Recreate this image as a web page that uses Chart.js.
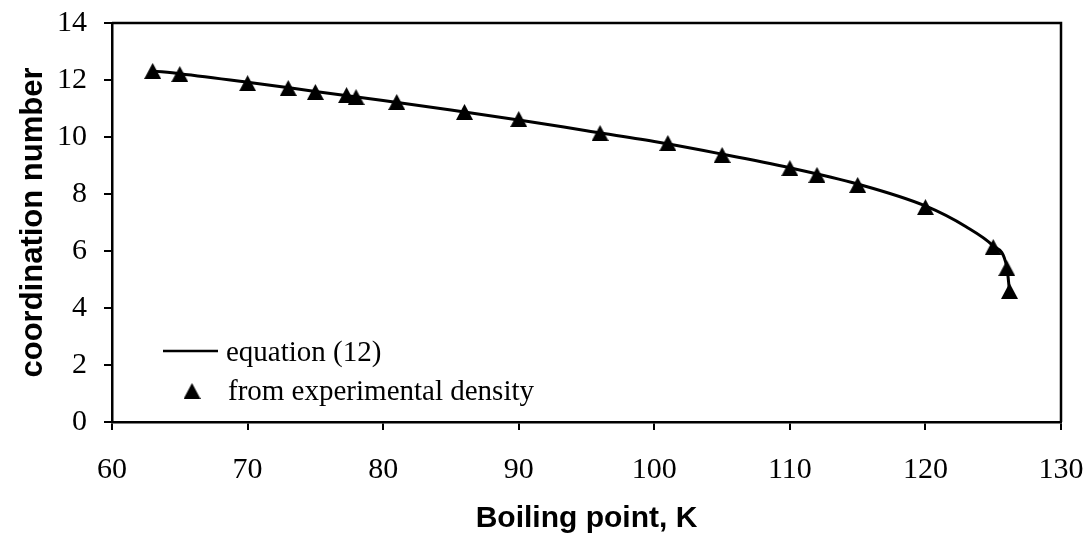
<!DOCTYPE html>
<html>
<head>
	<title>Coordination number vs boiling point</title>
	<script src="https://cdn.jsdelivr.net/npm/chart.js@4/dist/chart.umd.min.js"></script>
	<style>
		body { margin: 0; background: #fff; }
	</style>
</head>
<body>
	<div>
		<canvas id="chart" width="1087" height="540"></canvas>
	</div>

	<script type="text/javascript">

		// experimental points (triangles)
		var tempExp = [63, 65, 70, 73, 75, 77.3, 78, 81, 86, 90, 96, 101, 105, 110, 112, 115, 120, 125, 126, 126.2];
		var cnExp = [12.32, 12.21, 11.89, 11.72, 11.58, 11.47, 11.40, 11.23, 10.88, 10.63, 10.14, 9.79, 9.37, 8.91, 8.67, 8.32, 7.54, 6.14, 5.40, 4.60];

		// equation (12) curve
		var tempEq = [63, 65, 70, 75, 80, 85, 90, 95, 100, 105, 110, 115, 120, 123, 125, 126, 126.2];
		var cnEq = [12.32, 12.22, 11.92, 11.60, 11.28, 10.95, 10.60, 10.22, 9.84, 9.40, 8.92, 8.35, 7.58, 6.85, 6.18, 5.45, 4.60];

		var xTicks = [60, 70, 80, 90, 100, 110, 120, 130];
		var yTicks = [0, 2, 4, 6, 8, 10, 12, 14];

		function toXY(xs, ys) {
			var out = [];
			for (var i = 0; i < xs.length; i++) {
				out.push({x: xs[i], y: ys[i]});
			}
			return out;
		}

		// triangle marker centred on its bounding box
		function makeTriangle(w, h) {
			var c = document.createElement('canvas');
			c.width = w;
			c.height = h;
			var g = c.getContext('2d');
			g.fillStyle = '#000';
			g.beginPath();
			g.moveTo(w / 2, 0);
			g.lineTo(w, h);
			g.lineTo(0, h);
			g.closePath();
			g.fill();
			return c;
		}
		var tri = makeTriangle(17, 16);

		var serif = '"Liberation Serif", "Times New Roman", serif';
		var sans = '"Liberation Sans", Arial, sans-serif';

		// box around the plot + legend inside the plot
		var framePlugin = {
			id: 'frame',
			afterDraw: function(chart) {
				var ctx = chart.ctx;
				var a = chart.chartArea;
				ctx.save();
				ctx.strokeStyle = '#000';
				ctx.lineWidth = 2.5;
				ctx.beginPath();
				ctx.moveTo(a.left, a.top);
				ctx.lineTo(a.right, a.top);
				ctx.lineTo(a.right, a.bottom);
				ctx.stroke();

				var ds = chart.data.datasets;
				ctx.font = '29px ' + serif;
				ctx.fillStyle = '#000';
				ctx.textBaseline = 'middle';
				ctx.textAlign = 'left';

				// line entry
				ctx.lineWidth = 2.5;
				ctx.beginPath();
				ctx.moveTo(163, 351);
				ctx.lineTo(218, 351);
				ctx.stroke();
				ctx.fillText(ds[0].label, 226, 353);

				// marker entry
				ctx.drawImage(tri, 192 - 8.5, 391 - 8);
				ctx.fillText(ds[1].label, 228, 392);
				ctx.restore();
			}
		};

		var config = {
			type: 'scatter',
			data: {
				datasets: [
					{
						label: 'equation (12)',
						data: toXY(tempEq, cnEq),
						showLine: true,
						borderColor: '#000',
						borderWidth: 3,
						pointRadius: 0,
						cubicInterpolationMode: 'monotone',
						fill: false
					},
					{
						label: 'from experimental density',
						data: toXY(tempExp, cnExp),
						showLine: false,
						pointStyle: tri,
						pointRadius: 9,
						backgroundColor: '#000',
						borderColor: '#000'
					}
				]
			},
			options: {
				responsive: false,
				animation: false,
				layout: {
					padding: {top: 23, right: 26, bottom: 0, left: 0}
				},
				plugins: {
					legend: {display: false},
					tooltip: {enabled: false}
				},
				scales: {
					x: {
						type: 'linear',
						min: 60,
						max: 130,
						afterBuildTicks: function(scale) {
							scale.ticks = xTicks.map(function(v) { return {value: v}; });
						},
						afterFit: function(scale) {
							scale.height = 118;
							scale.paddingLeft = 0;
							scale.paddingRight = 0;
						},
						grid: {
							drawOnChartArea: false,
							drawTicks: true,
							tickLength: 8,
							color: '#000',
							lineWidth: 2
						},
						border: {color: '#000', width: 2.5},
						ticks: {
							color: '#000',
							padding: 22,
							maxRotation: 0,
							font: {family: serif, size: 30}
						},
						title: {
							display: true,
							text: 'Boiling point, K',
							color: '#000',
							padding: {top: 0, bottom: 3},
							font: {family: sans, size: 30, weight: 'bold'}
						}
					},
					y: {
						min: 0,
						max: 14,
						afterBuildTicks: function(scale) {
							scale.ticks = yTicks.map(function(v) { return {value: v}; });
						},
						afterFit: function(scale) {
							scale.width = 112;
							scale.paddingTop = 0;
							scale.paddingBottom = 0;
						},
						grid: {
							drawOnChartArea: false,
							drawTicks: true,
							tickLength: 8,
							color: '#000',
							lineWidth: 2
						},
						border: {color: '#000', width: 2.5},
						ticks: {
							color: '#000',
							padding: 17,
							font: {family: serif, size: 30}
						},
						title: {
							display: true,
							text: 'coordination number',
							color: '#000',
							padding: {top: 15, bottom: 0},
							font: {family: sans, size: 31, weight: 'bold'}
						}
					}
				}
			},
			plugins: [framePlugin]
		};

		var ctx = document.getElementById('chart').getContext('2d');
		var chart = new Chart(ctx, config);

	</script>
</body>
</html>
